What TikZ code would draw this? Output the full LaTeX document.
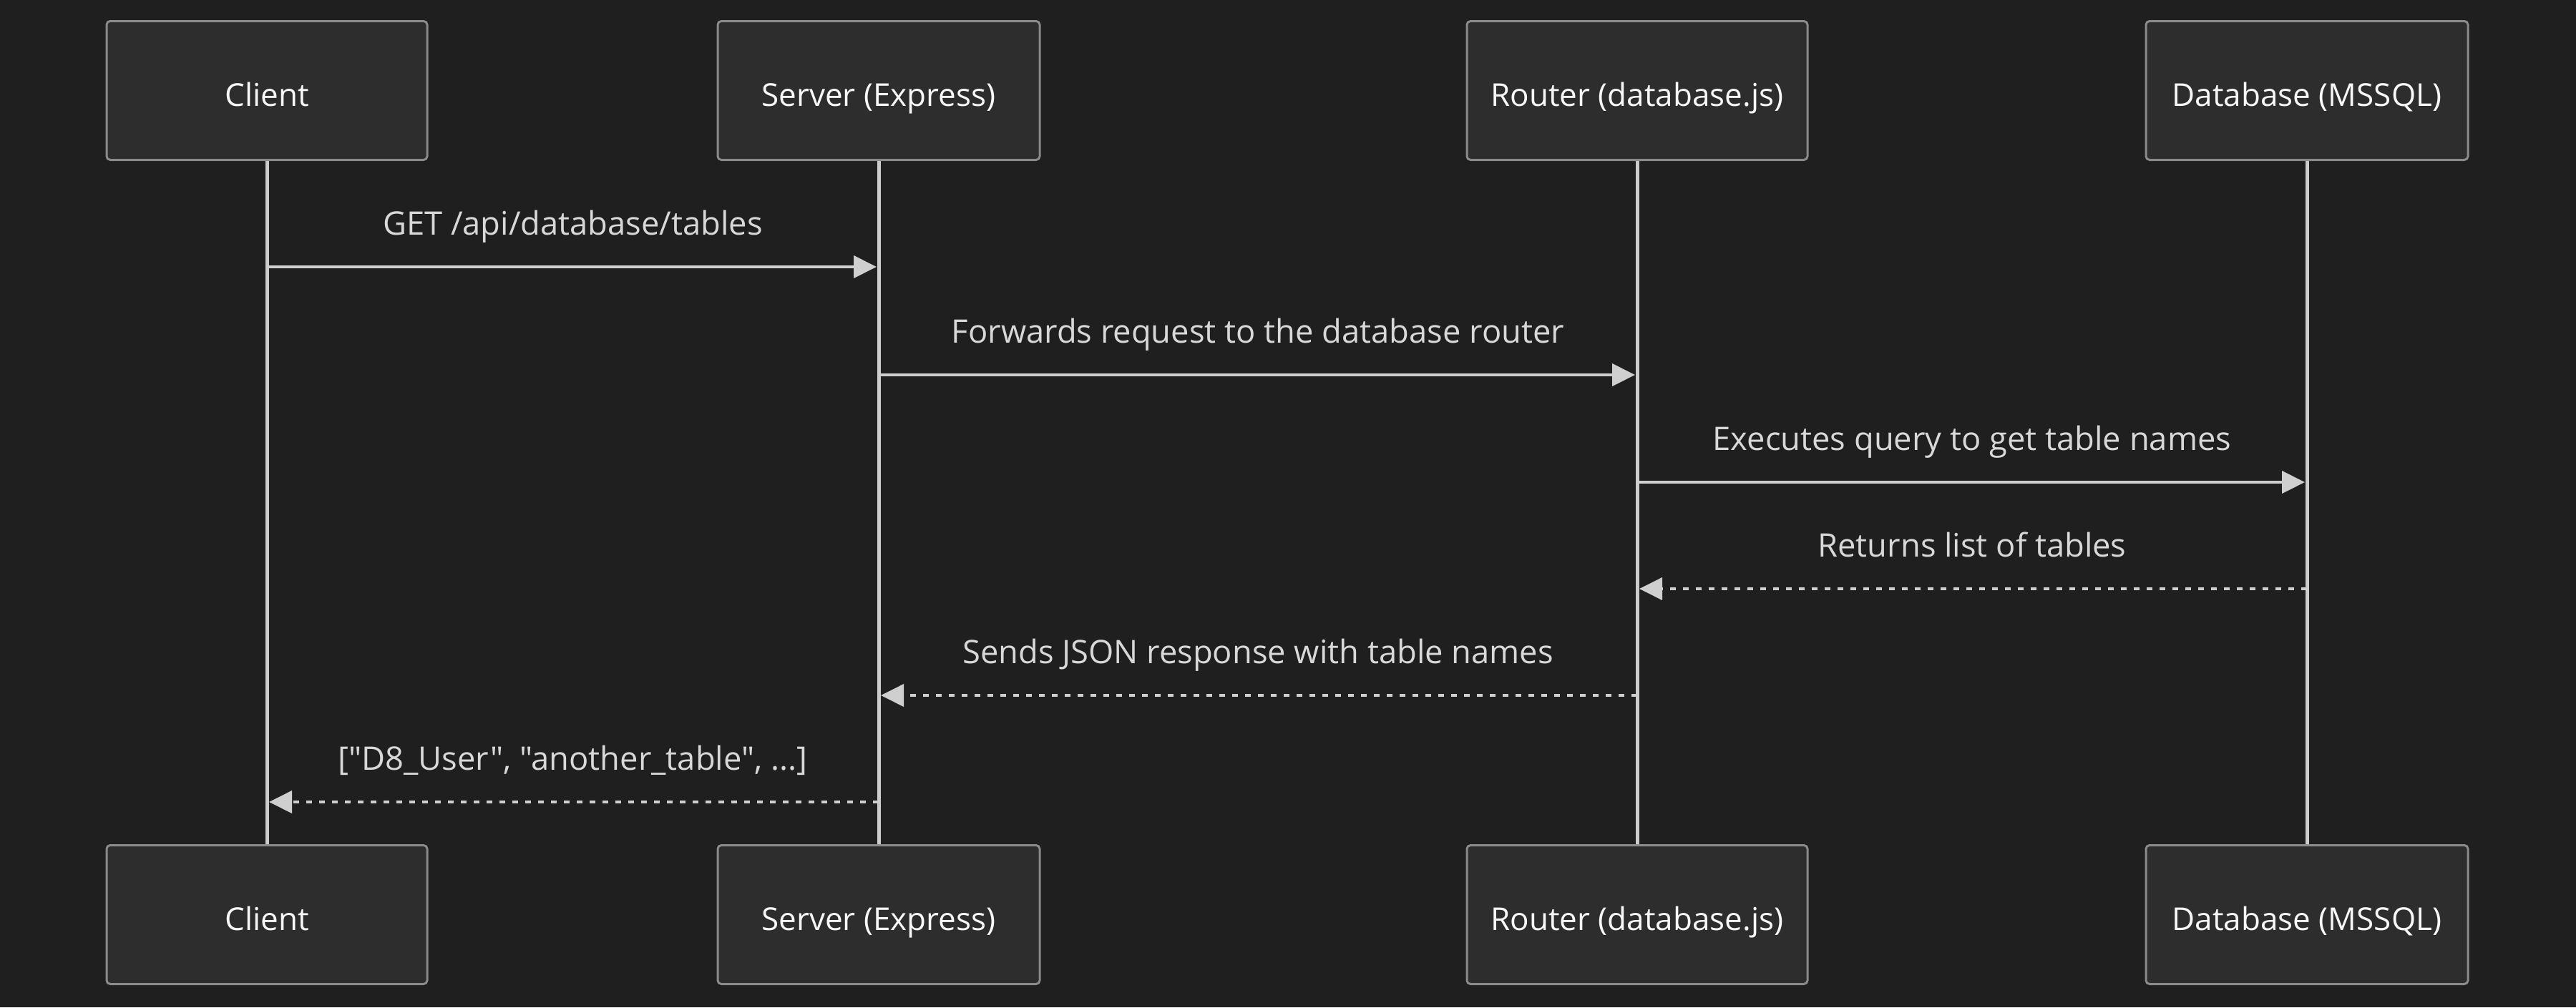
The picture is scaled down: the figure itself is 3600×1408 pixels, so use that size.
\documentclass[tikz,border=0pt]{standalone}
\usepackage{fontspec}
\setmainfont{Open Sans}[Ligatures=TeXOff]
\usetikzlibrary{arrows.meta}
\definecolor{bg}{HTML}{1F1F1F}
\definecolor{boxfill}{HTML}{2D2D2D}
\definecolor{boxline}{HTML}{8A8A8A}
\definecolor{lifecol}{HTML}{CCCCCC}
\definecolor{msgcol}{HTML}{CFCFCF}
\definecolor{boxtext}{HTML}{F8F8F8}
\definecolor{msgtext}{HTML}{D8D8D8}
\tikzset{
  actor/.style={draw=boxline, line width=3pt, fill=boxfill, rounded corners=5pt,
    minimum height=194pt, inner sep=0pt, text=boxtext,
    font=\fontsize{44}{52}\selectfont, text height=43pt, text depth=0pt},
  lifeline/.style={draw=lifecol, line width=5pt},
  msg/.style={draw=msgcol, line width=4pt, -{Triangle[length=32pt,width=31pt]}},
  reply/.style={msg, dash pattern=on 8pt off 10pt},
  msglabel/.style={anchor=base, text=msgtext, inner sep=0pt, font=\fontsize{45.3}{54}\selectfont}
}
\begin{document}
\begin{tikzpicture}[x=1pt,y=-1pt]
\useasboundingbox (0,0) rectangle (3600,1408);
\fill[bg] (0,0) rectangle (3600,1408);
% actors top
\node[actor, minimum width=448pt] (cT) at (373,126.5) {Client};
\node[actor, minimum width=450pt] (sT) at (1228,126.5) {Server (Express)};
\node[actor, minimum width=476pt] (rT) at (2288,126.5) {Router (database.js)};
\node[actor, minimum width=450pt] (dT) at (3224,126.5) {Database (MSSQL)};
% actors bottom
\node[actor, minimum width=448pt] (cB) at (373,1278.5) {Client};
\node[actor, minimum width=450pt] (sB) at (1228,1278.5) {Server (Express)};
\node[actor, minimum width=476pt] (rB) at (2288,1278.5) {Router (database.js)};
\node[actor, minimum width=450pt] (dB) at (3224,1278.5) {Database (MSSQL)};
% lifelines
\draw[lifeline] (cT.south) -- (cB.north);
\draw[lifeline] (sT.south) -- (sB.north);
\draw[lifeline] (rT.south) -- (rB.north);
\draw[lifeline] (dT.south) -- (dB.north);
% message endpoints
\coordinate (m1a) at (373,373);  \coordinate (m1b) at (1225,373);
\coordinate (m2a) at (1228,524); \coordinate (m2b) at (2285,524);
\coordinate (m3a) at (2288,674); \coordinate (m3b) at (3221,674);
\coordinate (m4a) at (3224,823); \coordinate (m4b) at (2291,823);
\coordinate (m5a) at (2288,972); \coordinate (m5b) at (1231,972);
\coordinate (m6a) at (1228,1121); \coordinate (m6b) at (376,1121);
% messages
\draw[msg] (m1a) -- (m1b);
\draw[msg] (m2a) -- (m2b);
\draw[msg] (m3a) -- (m3b);
\draw[reply] (m4a) -- (m4b);
\draw[reply] (m5a) -- (m5b);
\draw[reply] (m6a) -- (m6b);
% labels
\node[msglabel] (l1) at (800.5,328) {GET /api/database/tables};
\node[msglabel] (l2) at (1758,479) {Forwards request to the database router};
\node[msglabel] (l3) at (2756,629) {Executes query to get table names};
\node[msglabel] (l4) at (2756,778) {Returns list of tables};
\node[msglabel] (l5) at (1758,927) {Sends JSON response with table names};
\node[msglabel] (l6) at (800.5,1076) {["D8\_User", "another\_table", ...]};
\end{tikzpicture}
\end{document}
